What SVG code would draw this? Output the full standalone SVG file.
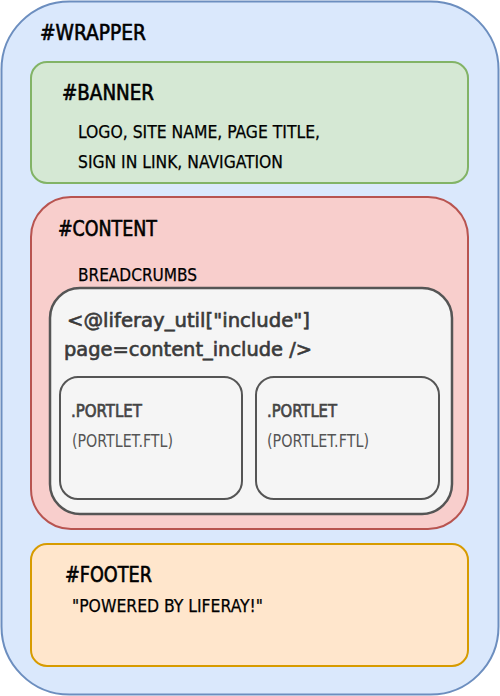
<svg xmlns="http://www.w3.org/2000/svg" width="500" height="696" viewBox="0 0 500 696">
  <style>
    text { font-family: "DejaVu Sans Condensed", "DejaVu Sans", sans-serif; }
    .head { font-size: 21px; fill: #000; stroke: #000; stroke-width: 0.6; }
    .body { font-size: 17.5px; fill: #000; stroke: #000; stroke-width: 0.25; }
    .code { font-size: 20px; fill: #3a3a3a; stroke: #3a3a3a; stroke-width: 0.6; }
    .ptitle { font-size: 17px; fill: #444; stroke: #444; stroke-width: 0.6; }
    .pfile { font-size: 17px; fill: #555; }
    .portlet { fill: #f5f5f5; stroke: #555; stroke-width: 2; }
  </style>

  <!-- outer page wrapper -->
  <g id="wrapper">
    <rect x="1.5" y="1.5" width="497" height="693" rx="68" ry="68" fill="#dae8fc" stroke="#6c8ebf" stroke-width="2"/>
    <text class="head" x="40" y="40" textLength="106" lengthAdjust="spacingAndGlyphs">#WRAPPER</text>
  </g>

  <!-- banner -->
  <g id="banner">
    <rect x="31" y="62" width="437" height="121" rx="16" ry="16" fill="#d5e8d4" stroke="#82b366" stroke-width="2"/>
    <text class="head" x="62" y="100" textLength="92" lengthAdjust="spacingAndGlyphs">#BANNER</text>
    <text class="body" x="78" y="138" textLength="242" lengthAdjust="spacingAndGlyphs">LOGO, SITE NAME, PAGE TITLE,</text>
    <text class="body" x="78" y="168" textLength="205" lengthAdjust="spacingAndGlyphs">SIGN IN LINK, NAVIGATION</text>
  </g>

  <!-- content area -->
  <g id="content">
    <rect x="31" y="197" width="437" height="332" rx="40" ry="40" fill="#f8cecc" stroke="#b85450" stroke-width="2"/>
    <text class="head" x="58" y="236" textLength="99" lengthAdjust="spacingAndGlyphs">#CONTENT</text>
    <text class="body" x="78" y="281" textLength="119" lengthAdjust="spacingAndGlyphs">BREADCRUMBS</text>
  </g>

  <!-- include block -->
  <g id="include">
    <rect x="50" y="288" width="402" height="226" rx="30" ry="30" fill="#f5f5f5" stroke="#555" stroke-width="2.5"/>
    <text class="code" x="67" y="327" textLength="243" lengthAdjust="spacingAndGlyphs">&lt;@liferay_util["include"]</text>
    <text class="code" x="64" y="356" textLength="248" lengthAdjust="spacingAndGlyphs">page=content_include /&gt;</text>
  </g>

  <!-- portlets -->
  <g id="portlet-1">
    <rect class="portlet" x="60" y="377" width="182" height="122" rx="18" ry="18"/>
    <text class="ptitle" x="71" y="417" textLength="71" lengthAdjust="spacingAndGlyphs">.PORTLET</text>
    <text class="pfile" x="72" y="447" textLength="101" lengthAdjust="spacingAndGlyphs">(PORTLET.FTL)</text>
  </g>
  <g id="portlet-2">
    <rect class="portlet" x="256" y="377" width="183" height="122" rx="18" ry="18"/>
    <text class="ptitle" x="267" y="417" textLength="70" lengthAdjust="spacingAndGlyphs">.PORTLET</text>
    <text class="pfile" x="267" y="447" textLength="102" lengthAdjust="spacingAndGlyphs">(PORTLET.FTL)</text>
  </g>

  <!-- footer -->
  <g id="footer">
    <rect x="31" y="544" width="437" height="122" rx="16" ry="16" fill="#ffe6cc" stroke="#d79b00" stroke-width="2"/>
    <text class="head" x="65" y="582" textLength="87" lengthAdjust="spacingAndGlyphs">#FOOTER</text>
    <text class="body" x="72" y="612" textLength="191" lengthAdjust="spacingAndGlyphs">"POWERED BY LIFERAY!"</text>
  </g>
</svg>
